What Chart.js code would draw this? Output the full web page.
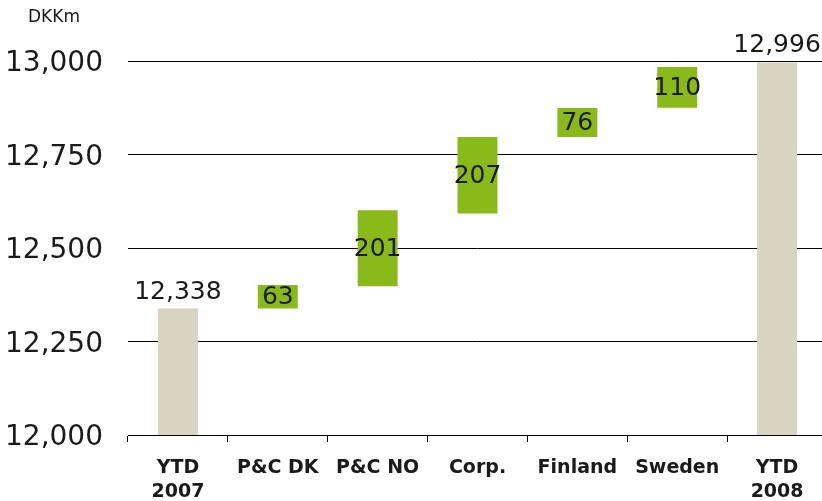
<!DOCTYPE html>
<html>
<head>
<meta charset="utf-8">
<script src="https://cdn.jsdelivr.net/npm/chart.js@4/dist/chart.umd.min.js"></script>
<style>
  html, body { margin: 0; padding: 0; background: #fff; }
  #wrap { width: 822px; height: 501px; overflow: hidden; }
</style>
</head>
<body>
<div id="wrap"><canvas id="waterfall" width="827" height="501"></canvas></div>
<script>
// categories (multi-line where the reference wraps)
const categories = [['YTD', '2007'], 'P&C DK', 'P&C NO', 'Corp.', 'Finland', 'Sweden', ['YTD', '2008']];

// bar start / end (DKKm)
const barStart = [12000, 12338, 12398, 12592, 12797, 12875, 12000];
const barEnd   = [12338, 12401, 12601, 12797, 12874, 12984, 12996];

// printed labels
const valueLabels = ['12,338', '63', '201', '207', '76', '110', '12,996'];
const isTotal = [true, false, false, false, false, false, true];

const yTicks = [12000, 12250, 12500, 12750, 13000];

const TOTAL_COLOR = '#d9d3c1';
const DELTA_COLOR = '#8ab91a';
const TEXT_COLOR = '#1a1a1a';

// draw numbers on / above bars
const barLabels = {
  id: 'barLabels',
  afterDatasetsDraw(chart) {
    const ctx = chart.ctx;
    const meta = chart.getDatasetMeta(0);
    ctx.save();
    ctx.font = '25px "DejaVu Sans"';
    ctx.fillStyle = TEXT_COLOR;
    ctx.textAlign = 'center';
    meta.data.forEach((bar, i) => {
      const top = Math.min(bar.y, bar.base);
      const bottom = Math.max(bar.y, bar.base);
      if (isTotal[i]) {
        ctx.textBaseline = 'bottom';
        ctx.fillText(valueLabels[i], bar.x, top - 4);
      } else {
        ctx.textBaseline = 'middle';
        ctx.fillText(valueLabels[i], bar.x, (top + bottom) / 2 + 1);
      }
    });
    // unit
    ctx.font = '17px "DejaVu Sans"';
    ctx.textAlign = 'left';
    ctx.textBaseline = 'middle';
    ctx.fillText('DKKm', 28, 18);
    ctx.restore();
  }
};

new Chart(document.getElementById('waterfall'), {
  type: 'bar',
  data: {
    labels: categories,
    datasets: [{
      data: barStart.map((s, i) => [s, barEnd[i]]),
      backgroundColor: isTotal.map(t => t ? TOTAL_COLOR : DELTA_COLOR),
      borderWidth: 0,
      borderSkipped: false,
      barPercentage: 0.4,
      categoryPercentage: 1.0
    }]
  },
  options: {
    responsive: false,
    animation: false,
    layout: { padding: { top: 61, right: 0, left: 0, bottom: 0 } },
    plugins: {
      legend: { display: false },
      tooltip: { enabled: false }
    },
    scales: {
      x: {
        offset: true,
        afterFit(scale) { scale.height = 66; },
        grid: {
          offset: true,
          drawOnChartArea: false,
          drawTicks: true,
          tickLength: 7,
          color: '#000'
        },
        border: { display: true, color: '#000', width: 1 },
        ticks: {
          color: TEXT_COLOR,
          font: { family: 'DejaVu Sans', size: 19, weight: 'bold', lineHeight: 1.25 },
          padding: 14,
          maxRotation: 0,
          autoSkip: false
        }
      },
      y: {
        min: 12000,
        max: 13000,
        afterBuildTicks(scale) { scale.ticks = yTicks.map(v => ({ value: v })); },
        afterFit(scale) { scale.width = 128; },
        grid: { color: '#000', drawTicks: false, lineWidth: 1 },
        border: { display: false },
        ticks: {
          color: TEXT_COLOR,
          font: { family: 'DejaVu Sans', size: 28 },
          padding: 25,
          labelOffset: 3,
          callback: v => v.toLocaleString('en-US')
        }
      }
    }
  },
  plugins: [barLabels]
});
</script>
</body>
</html>
